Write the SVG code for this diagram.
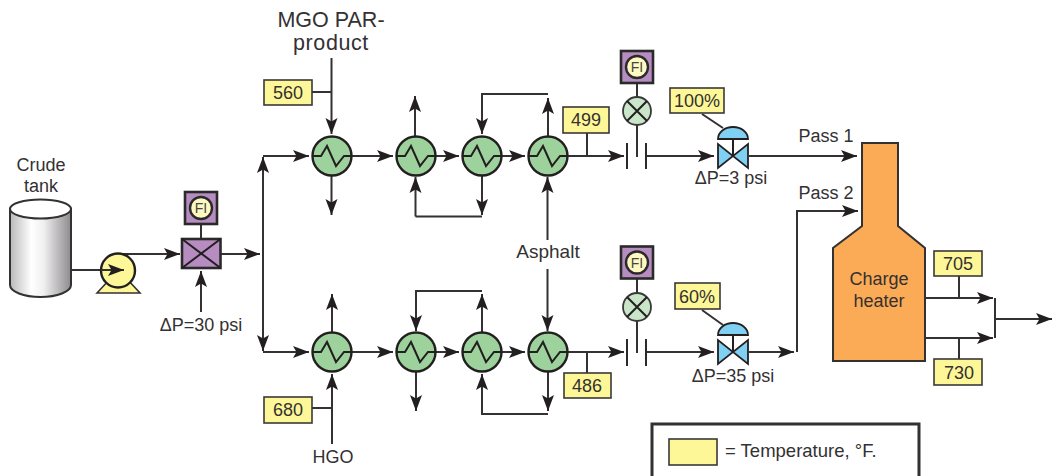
<svg xmlns="http://www.w3.org/2000/svg" width="1052" height="476" viewBox="0 0 1052 476">
<style>
text{font-family:"Liberation Sans",Arial,sans-serif;fill:#333132;font-size:18px;text-anchor:middle}
.l{fill:none;stroke:#333132;stroke-width:2}
.a{marker-end:url(#arr)}
.k{stroke:#2b2a2b;stroke-width:2}
.y{fill:#fef797;stroke:#3a3839;stroke-width:1.6}
.p{fill:#b78cc0;stroke:#2b2a2b;stroke-width:2.6}
.c{fill:#fef9c0;stroke:#2b2a2b;stroke-width:2.4}
.h{fill:#9dd29c;stroke:#231f20;stroke-width:2.4}
.z{fill:none;stroke:#231f20;stroke-width:2}
.v{fill:#80d0f4;stroke:#231f20;stroke-width:1.8}
.g{fill:#c9e6c8;stroke:#3a3839;stroke-width:1.8}
.f{font-size:14px;fill:#444}
.b{font-size:19px}
.m{font-size:21.500px}
</style>
<defs>
<marker id="arr" markerUnits="userSpaceOnUse" markerWidth="17" markerHeight="13" refX="16" refY="6.500" orient="auto"><path d="M0,0.500 L16,6.500 L0,12.500 L3.500,6.500 Z" fill="#231f20"/></marker>
<linearGradient id="tank" x1="0" x2="1" y1="0" y2="0"><stop offset="0" stop-color="#b9b8b9"/><stop offset=".35" stop-color="#fff"/><stop offset=".55" stop-color="#f1f0f1"/><stop offset="1" stop-color="#8d8b8d"/></linearGradient>
<g id="hx"><circle r="19.500" class="h"/><path class="z" d="M-19,0H-11L-5,-10L4,10L12,0H19"/></g>
<g id="fi"><rect x="-16" y="-16" width="32" height="32" class="p"/><circle r="11" class="c"/><text y="5" class="f">FI</text></g>
<g id="flow"><circle r="14" class="g"/><path class="z" d="M-10,-10L10,10M10,-10L-10,10"/></g>
<g id="valve"><path class="v" d="M-15,-12V12L15,-12V12Z"/><path class="z" d="M0,0V-17"/><path class="v" d="M-15,-17A15,12 0 0 1 15,-17Z"/></g>
</defs>

<g id="connectors">
<path class="l a" d="M71,270H124"/>
<path class="l a" d="M118,254H180"/>
<path class="l a" d="M221,254H260"/>
<path class="l" d="M201,224V239"/>
<path class="l a" d="M201,312V271"/>
<path class="l a" d="M263,254V157"/>
<path class="l a" d="M263,254V351"/>
<path class="l a" d="M263,156H309"/>
<path class="l a" d="M351,156H393"/>
<path class="l a" d="M435,156H459"/>
<path class="l a" d="M501,156H525"/>
<path class="l a" d="M567,156H624"/>
<path class="l a" d="M646,156H714"/>
<path class="l a" d="M749,156H857"/>
<path class="l a" d="M331.500,58V134"/>
<path class="l" d="M312,92H331"/>
<path class="l a" d="M331.500,176V215"/>
<path class="l a" d="M415,136V96"/>
<path class="l a" d="M548,94H482V134"/>
<path class="l a" d="M548,136V98"/>
<path class="l" d="M482,216.500H415.500"/>
<path class="l a" d="M482,176V215"/>
<path class="l a" d="M415.500,216.500V177"/>
<path class="l a" d="M547.500,240V177"/>
<path class="l a" d="M547.500,269V331"/>
<path class="l" d="M587,133V156"/>
<path class="l" d="M637,83V97M637,125V157"/>
<path class="k" d="M627,143V169M646,143V169" fill="none"/>
<path class="l" d="M702,114L723,128"/>
<path class="l a" d="M263,352H309"/>
<path class="l a" d="M351,352H393"/>
<path class="l a" d="M435,352H459"/>
<path class="l a" d="M501,352H525"/>
<path class="l a" d="M567,352H624"/>
<path class="l a" d="M646,352H714"/>
<path class="l a" d="M749,352H794"/>
<path class="l a" d="M797,352V211H858"/>
<path class="l a" d="M332,444V374"/>
<path class="l" d="M312,408H332"/>
<path class="l a" d="M332,332V294"/>
<path class="l a" d="M482,291H416V331"/>
<path class="l a" d="M482,332V294"/>
<path class="l a" d="M416,372V411"/>
<path class="l a" d="M548,414H482V374"/>
<path class="l a" d="M548,372V411"/>
<path class="l" d="M587,352V373"/>
<path class="l" d="M637,278V293M637,321V353"/>
<path class="k" d="M627,339V366M646,339V366" fill="none"/>
<path class="l" d="M702,310L723,325"/>
<path class="l a" d="M925,298H993"/>
<path class="l a" d="M925,338H993"/>
<path class="l" d="M959,276V298M959,338V359"/>
<path class="l" d="M995,298V338"/>
<path class="l a" d="M995,319H1052"/>
</g>

<g id="tank-node">
<path d="M10,209V285A30.500,12 0 0 0 71,285V209Z" fill="url(#tank)" stroke="#333132" stroke-width="2"/>
<ellipse cx="40.500" cy="209" rx="30.500" ry="9.500" fill="#fff" stroke="#333132" stroke-width="2"/>
<text x="41" y="171">Crude</text>
<text x="41" y="192">tank</text>
</g>
<g id="pump">
<path d="M97,293L110,279H127L140,293Z" fill="#fef797" stroke="#333132" stroke-width="1.600"/>
<circle cx="118" cy="270.500" r="17" fill="#fef797" stroke="#231f20" stroke-width="2.400"/>
<path d="M101,270H124" class="l a"/>
</g>
<g id="fi-feed"><use href="#fi" x="201" y="208"/></g>
<g id="feed-valve">
<rect x="182" y="239" width="38.500" height="29" class="p"/>
<path class="z" d="M182,239L220.500,268M220.500,239L182,268"/>
<text x="201" y="331">ΔP=30 psi</text>
</g>
<g id="mgo"><text x="331" y="27" class="m">MGO PAR-</text><text x="331" y="50" class="m" style="letter-spacing:.6px">product</text></g>
<g id="t560"><rect class="y" x="264" y="80" width="48" height="25"/><text x="288" y="99">560</text></g>
<g id="hx1"><use href="#hx" x="332" y="156"/></g>
<g id="hx2"><use href="#hx" x="416" y="156"/></g>
<g id="hx3"><use href="#hx" x="482" y="156"/></g>
<g id="hx4"><use href="#hx" x="548" y="156"/></g>
<g id="t499"><rect class="y" x="563" y="107" width="46" height="26"/><text x="586" y="126">499</text></g>
<g id="asphalt"><text x="548" y="258" class="b">Asphalt</text></g>
<g id="fi1"><use href="#fi" x="637" y="67"/></g>
<g id="flow1"><use href="#flow" x="637" y="111"/></g>
<g id="t100"><rect class="y" x="670" y="88" width="54" height="25"/><text x="697" y="107">100%</text></g>
<g id="valve1"><use href="#valve" x="733" y="156"/><text x="731" y="184">ΔP=3 psi</text></g>
<g id="pass1"><text x="826" y="142">Pass 1</text></g>
<g id="pass2"><text x="826" y="199">Pass 2</text></g>
<g id="hx5"><use href="#hx" x="332" y="352"/></g>
<g id="hx6"><use href="#hx" x="416" y="352"/></g>
<g id="hx7"><use href="#hx" x="482" y="352"/></g>
<g id="hx8"><use href="#hx" x="548" y="352"/></g>
<g id="t680"><rect class="y" x="264" y="397" width="48" height="26"/><text x="288" y="416">680</text></g>
<g id="hgo"><text x="333" y="463">HGO</text></g>
<g id="t486"><rect class="y" x="564" y="373" width="47" height="25"/><text x="587" y="392">486</text></g>
<g id="fi2"><use href="#fi" x="637" y="262.500"/></g>
<g id="flow2"><use href="#flow" x="637" y="307"/></g>
<g id="t60"><rect class="y" x="675" y="283" width="45" height="26"/><text x="697" y="303">60%</text></g>
<g id="valve2"><use href="#valve" x="733" y="352"/><text x="733" y="382">ΔP=35 psi</text></g>
<g id="heater">
<path d="M862,143H898V226L925,248V361H833V248L862,226Z" fill="#fbaa55" stroke="#333132" stroke-width="2"/>
<text x="879" y="285">Charge</text>
<text x="879" y="307">heater</text>
</g>
<g id="t705"><rect class="y" x="934" y="251" width="48" height="25"/><text x="958" y="270">705</text></g>
<g id="t730"><rect class="y" x="934" y="359" width="48" height="26"/><text x="959" y="379">730</text></g>
<g id="legend">
<path d="M652,476V424H919V476" fill="none" stroke="#333132" stroke-width="3"/>
<rect class="y" x="669" y="439" width="48" height="26"/>
<text x="725" y="457" style="text-anchor:start;font-size:18.500px">= Temperature, °F.</text>
</g>
</svg>
